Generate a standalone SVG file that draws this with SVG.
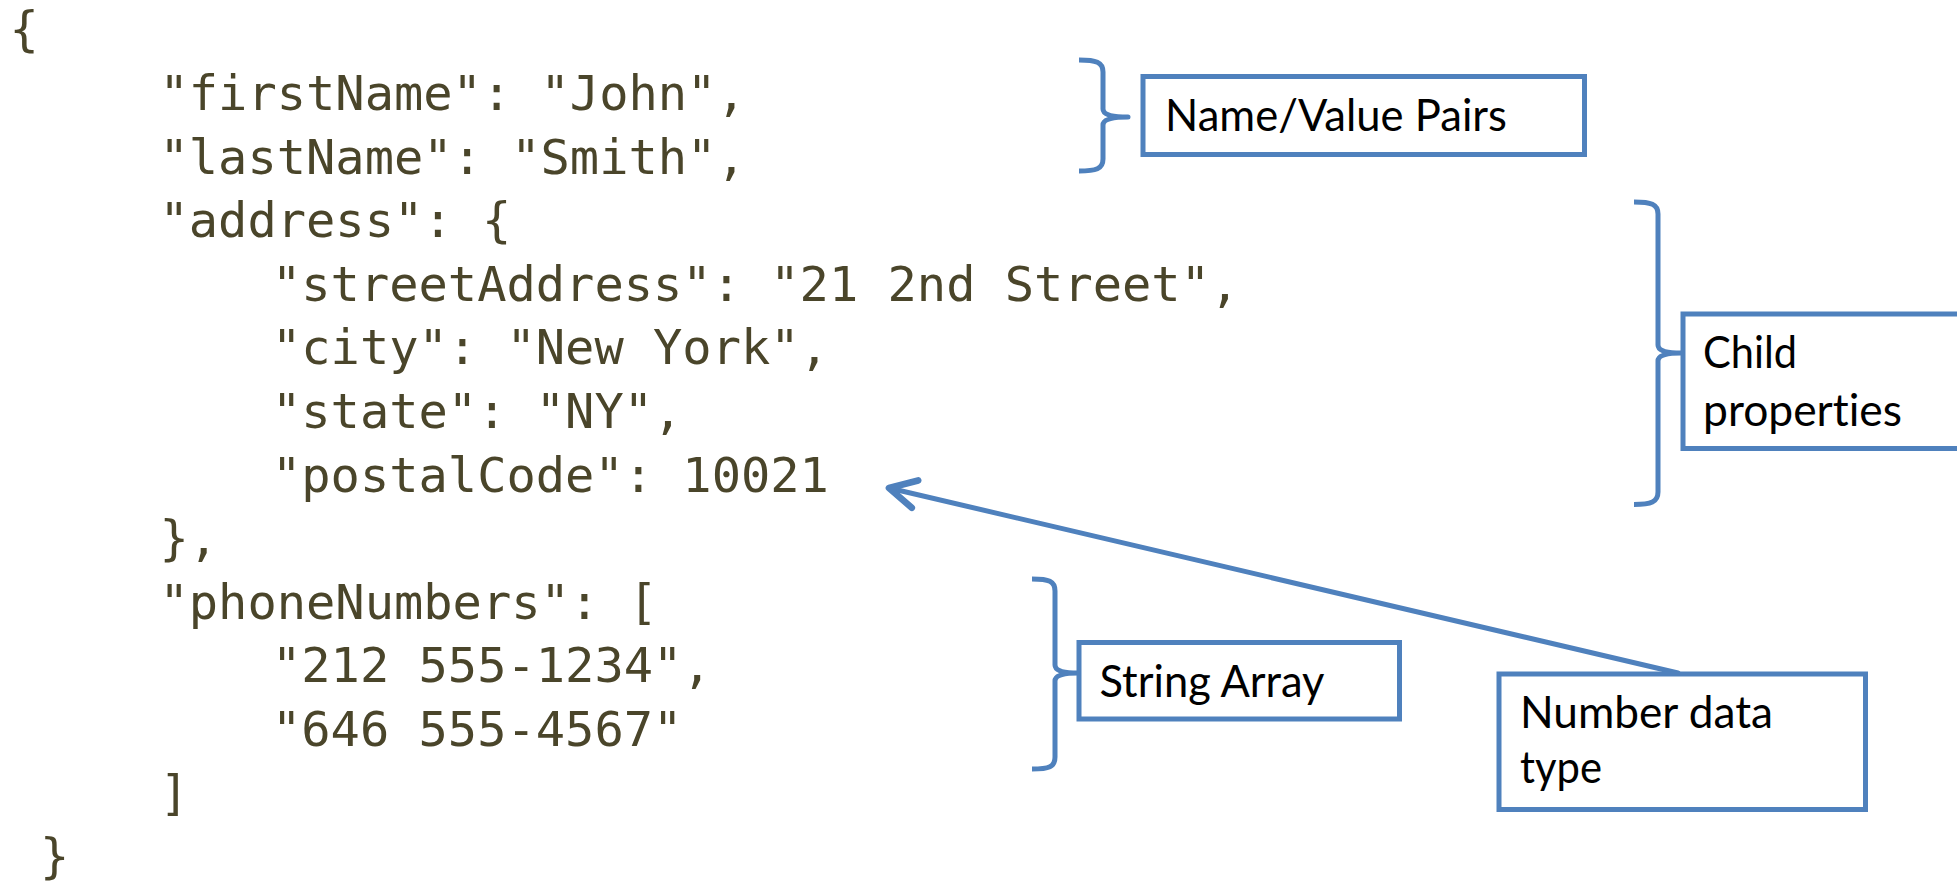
<svg xmlns="http://www.w3.org/2000/svg" width="1957" height="888" viewBox="0 0 1957 888">
  <style>
    .code { font-family: "DejaVu Sans Mono", "Liberation Mono", monospace; font-size: 48.7px; fill: #4A452A; }
    .box { fill: #FFFFFF; stroke: #4F81BD; stroke-width: 5; }
    .lbl { font-family: Lato, "Liberation Sans", sans-serif; font-size: 44px; fill: #000000; font-variant-ligatures: none; font-feature-settings: "liga" 0, "clig" 0; }
    .brace { fill: none; stroke: #4F81BD; stroke-width: 5; stroke-linecap: butt; stroke-linejoin: round; }
    .arrow { fill: none; stroke: #4F81BD; stroke-width: 5; stroke-linecap: round; stroke-linejoin: round; }
  </style>
  <defs>
    <marker id="openArrow" markerUnits="userSpaceOnUse" markerWidth="40" markerHeight="40" viewBox="-24 -14 30 28" refX="0" refY="0" orient="auto">
      <path d="M -20 -10.5 L 0 0 L -20 10.5" fill="none" stroke="#4F81BD" stroke-width="5" stroke-linecap="round" stroke-linejoin="round"/>
    </marker>
  </defs>
  <rect x="0" y="0" width="1957" height="888" fill="#FFFFFF"/>

  <g id="json-code">
    <text class="code" x="9.5" y="46.4">{</text>
    <text class="code" x="159.5" y="110">"firstName": "John",</text>
    <text class="code" x="159.5" y="173.6">"lastName": "Smith",</text>
    <text class="code" x="159.5" y="237.2">"address": {</text>
    <text class="code" x="272" y="300.8">"streetAddress": "21 2nd Street",</text>
    <text class="code" x="272" y="364.4">"city": "New York",</text>
    <text class="code" x="272" y="428">"state": "NY",</text>
    <text class="code" x="272" y="491.6">"postalCode": 10021</text>
    <text class="code" x="159.5" y="555.2">},</text>
    <text class="code" x="159.5" y="618.8">"phoneNumbers": [</text>
    <text class="code" x="272" y="682.4">"212 555-1234",</text>
    <text class="code" x="272" y="746">"646 555-4567"</text>
    <text class="code" x="159.5" y="809.6">]</text>
    <text class="code" x="40" y="873.2">}</text>
  </g>

  <g id="connectors">
    <path class="brace" d="M 1079 60 C 1096 60 1103 62 1103 72 L 1103 109 Q 1103 117 1128 117 Q 1103 117 1103 125 L 1103 159 C 1103 169 1096 171 1079 171"/>
    <path class="brace" d="M 1634 202 C 1651 202 1658 204 1658 214 L 1658 345 Q 1658 353 1681 353 Q 1658 353 1658 361 L 1658 492 C 1658 502 1651 504.5 1634 504.5"/>
    <path class="brace" d="M 1032 579 C 1049 579 1055 581 1055 591 L 1055 665 Q 1055 673 1078 673 Q 1055 673 1055 681 L 1055 757 C 1055 767 1049 769 1032 769"/>
    <path class="arrow" d="M 1678 673 L 889 488" marker-end="url(#openArrow)"/>
  </g>

  <g id="node-name-value">
    <rect class="box" x="1143" y="76.5" width="441.5" height="78"/>
    <text class="lbl" x="1165" y="130.7" textLength="342" lengthAdjust="spacingAndGlyphs">Name/Value Pairs</text>
  </g>

  <g id="node-child-properties">
    <rect class="box" x="1683" y="314" width="310" height="134.5"/>
    <text class="lbl" x="1703" y="367.7" textLength="94" lengthAdjust="spacingAndGlyphs">Child</text>
    <text class="lbl" x="1703" y="426" textLength="199" lengthAdjust="spacingAndGlyphs">properties</text>
  </g>

  <g id="node-string-array">
    <rect class="box" x="1079" y="642.5" width="320.5" height="76.5"/>
    <text class="lbl" x="1099.5" y="696.7" textLength="225" lengthAdjust="spacingAndGlyphs">String Array</text>
  </g>

  <g id="node-number-data-type">
    <rect class="box" x="1499" y="674" width="366.5" height="135.5"/>
    <text class="lbl" x="1520" y="728.3" textLength="253" lengthAdjust="spacingAndGlyphs">Number data</text>
    <text class="lbl" x="1520" y="783.3" textLength="82" lengthAdjust="spacingAndGlyphs">type</text>
  </g>
</svg>
